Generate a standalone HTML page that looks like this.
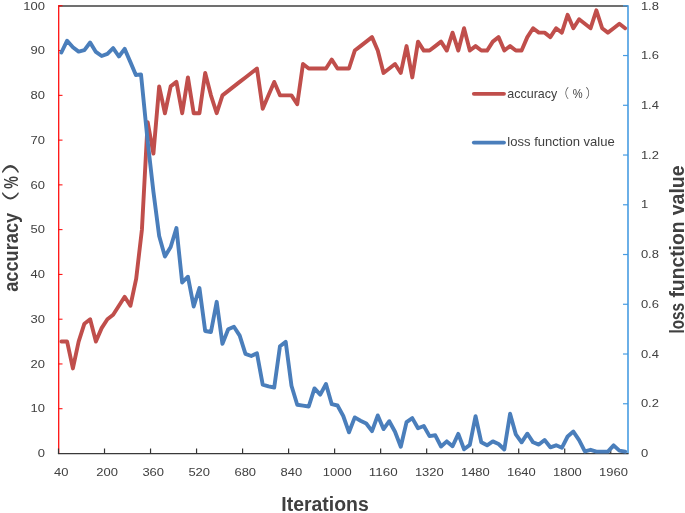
<!DOCTYPE html>
<html><head><meta charset="utf-8"><title>chart</title>
<style>html,body{margin:0;padding:0;background:#fff}svg{display:block}text{font-family:"Liberation Sans","Noto Sans CJK SC",sans-serif;fill:#404040}</style></head>
<body>
<svg width="685" height="513" viewBox="0 0 685 513">
<rect width="685" height="513" fill="#fff"/>
<line x1="58.5" y1="6.0" x2="628.0" y2="6.0" stroke="#404040" stroke-width="1.5"/>
<line x1="58.7" y1="5.3" x2="58.7" y2="453.5" stroke="#ff1010" stroke-width="1.3"/>
<line x1="58.5" y1="453.50" x2="62.5" y2="453.50" stroke="#ff0000" stroke-width="1"/>
<text x="44.9" y="457.20" font-size="11.8" text-anchor="end" textLength="7.22" lengthAdjust="spacingAndGlyphs">0</text>
<line x1="58.5" y1="408.73" x2="62.5" y2="408.73" stroke="#ff0000" stroke-width="1"/>
<text x="44.9" y="412.43" font-size="11.8" text-anchor="end" textLength="14.43" lengthAdjust="spacingAndGlyphs">10</text>
<line x1="58.5" y1="363.96" x2="62.5" y2="363.96" stroke="#ff0000" stroke-width="1"/>
<text x="44.9" y="367.66" font-size="11.8" text-anchor="end" textLength="14.43" lengthAdjust="spacingAndGlyphs">20</text>
<line x1="58.5" y1="319.19" x2="62.5" y2="319.19" stroke="#ff0000" stroke-width="1"/>
<text x="44.9" y="322.89" font-size="11.8" text-anchor="end" textLength="14.43" lengthAdjust="spacingAndGlyphs">30</text>
<line x1="58.5" y1="274.42" x2="62.5" y2="274.42" stroke="#ff0000" stroke-width="1"/>
<text x="44.9" y="278.12" font-size="11.8" text-anchor="end" textLength="14.43" lengthAdjust="spacingAndGlyphs">40</text>
<line x1="58.5" y1="229.65" x2="62.5" y2="229.65" stroke="#ff0000" stroke-width="1"/>
<text x="44.9" y="233.35" font-size="11.8" text-anchor="end" textLength="14.43" lengthAdjust="spacingAndGlyphs">50</text>
<line x1="58.5" y1="184.88" x2="62.5" y2="184.88" stroke="#ff0000" stroke-width="1"/>
<text x="44.9" y="188.58" font-size="11.8" text-anchor="end" textLength="14.43" lengthAdjust="spacingAndGlyphs">60</text>
<line x1="58.5" y1="140.11" x2="62.5" y2="140.11" stroke="#ff0000" stroke-width="1"/>
<text x="44.9" y="143.81" font-size="11.8" text-anchor="end" textLength="14.43" lengthAdjust="spacingAndGlyphs">70</text>
<line x1="58.5" y1="95.34" x2="62.5" y2="95.34" stroke="#ff0000" stroke-width="1"/>
<text x="44.9" y="99.04" font-size="11.8" text-anchor="end" textLength="14.43" lengthAdjust="spacingAndGlyphs">80</text>
<line x1="58.5" y1="50.57" x2="62.5" y2="50.57" stroke="#ff0000" stroke-width="1"/>
<text x="44.9" y="54.27" font-size="11.8" text-anchor="end" textLength="14.43" lengthAdjust="spacingAndGlyphs">90</text>
<line x1="58.5" y1="5.80" x2="62.5" y2="5.80" stroke="#ff0000" stroke-width="1"/>
<text x="44.9" y="9.50" font-size="11.8" text-anchor="end" textLength="21.65" lengthAdjust="spacingAndGlyphs">100</text>
<line x1="628.0" y1="5.3" x2="628.0" y2="453.5" stroke="#479ce2" stroke-width="1.6"/>
<line x1="623.0" y1="453.50" x2="628.0" y2="453.50" stroke="#479ce2" stroke-width="1.2"/>
<text x="640.9" y="457.20" font-size="11.8" textLength="7.22" lengthAdjust="spacingAndGlyphs">0</text>
<line x1="623.0" y1="403.76" x2="628.0" y2="403.76" stroke="#479ce2" stroke-width="1.2"/>
<text x="640.9" y="407.46" font-size="11.8" textLength="18.04" lengthAdjust="spacingAndGlyphs">0.2</text>
<line x1="623.0" y1="354.01" x2="628.0" y2="354.01" stroke="#479ce2" stroke-width="1.2"/>
<text x="640.9" y="357.71" font-size="11.8" textLength="18.04" lengthAdjust="spacingAndGlyphs">0.4</text>
<line x1="623.0" y1="304.27" x2="628.0" y2="304.27" stroke="#479ce2" stroke-width="1.2"/>
<text x="640.9" y="307.97" font-size="11.8" textLength="18.04" lengthAdjust="spacingAndGlyphs">0.6</text>
<line x1="623.0" y1="254.52" x2="628.0" y2="254.52" stroke="#479ce2" stroke-width="1.2"/>
<text x="640.9" y="258.22" font-size="11.8" textLength="18.04" lengthAdjust="spacingAndGlyphs">0.8</text>
<line x1="623.0" y1="204.78" x2="628.0" y2="204.78" stroke="#479ce2" stroke-width="1.2"/>
<text x="640.9" y="208.48" font-size="11.8" textLength="7.22" lengthAdjust="spacingAndGlyphs">1</text>
<line x1="623.0" y1="155.03" x2="628.0" y2="155.03" stroke="#479ce2" stroke-width="1.2"/>
<text x="640.9" y="158.73" font-size="11.8" textLength="18.04" lengthAdjust="spacingAndGlyphs">1.2</text>
<line x1="623.0" y1="105.29" x2="628.0" y2="105.29" stroke="#479ce2" stroke-width="1.2"/>
<text x="640.9" y="108.99" font-size="11.8" textLength="18.04" lengthAdjust="spacingAndGlyphs">1.4</text>
<line x1="623.0" y1="55.54" x2="628.0" y2="55.54" stroke="#479ce2" stroke-width="1.2"/>
<text x="640.9" y="59.24" font-size="11.8" textLength="18.04" lengthAdjust="spacingAndGlyphs">1.6</text>
<line x1="623.0" y1="5.80" x2="628.0" y2="5.80" stroke="#479ce2" stroke-width="1.2"/>
<text x="640.9" y="9.50" font-size="11.8" textLength="18.04" lengthAdjust="spacingAndGlyphs">1.8</text>
<polyline points="61.38,341.57 67.13,341.57 72.88,368.44 78.63,341.57 84.39,323.67 90.14,319.19 95.89,341.57 101.64,328.14 107.40,319.19 113.15,314.71 118.90,305.76 124.65,296.81 130.41,305.76 136.16,278.90 141.91,229.65 147.66,122.20 153.42,153.54 159.17,86.39 164.92,113.25 170.67,86.39 176.43,81.91 182.18,113.25 187.93,77.43 193.68,113.25 199.44,113.25 205.19,72.95 210.94,95.34 216.69,113.25 222.45,95.34 228.20,90.86 233.95,86.39 239.70,81.91 245.46,77.43 251.21,72.95 256.96,68.48 262.71,108.77 268.47,95.34 274.22,81.91 279.97,95.34 285.72,95.34 291.48,95.34 297.23,104.29 302.98,64.00 308.73,68.48 314.49,68.48 320.24,68.48 325.99,68.48 331.74,59.52 337.50,68.48 343.25,68.48 349.00,68.48 354.76,50.57 360.51,46.09 366.26,41.62 372.01,37.14 377.77,50.57 383.52,72.95 389.27,68.48 395.02,64.00 400.78,72.95 406.53,46.09 412.28,77.43 418.03,41.62 423.79,50.57 429.54,50.57 435.29,46.09 441.04,41.62 446.80,50.57 452.55,32.66 458.30,50.57 464.05,28.19 469.81,50.57 475.56,46.09 481.31,50.57 487.06,50.57 492.82,41.62 498.57,37.14 504.32,50.57 510.07,46.09 515.83,50.57 521.58,50.57 527.33,37.14 533.08,28.19 538.84,32.66 544.59,32.66 550.34,37.14 556.09,28.19 561.85,32.66 567.60,14.75 573.35,28.19 579.10,19.23 584.86,23.71 590.61,28.19 596.36,10.28 602.11,28.19 607.87,32.66 613.62,28.19 619.37,23.71 625.12,28.19" fill="none" stroke="#c04e4b" stroke-width="3.9" stroke-linejoin="round" stroke-linecap="round"/>
<line x1="57.9" y1="453.7" x2="628.6" y2="453.7" stroke="#3a3a3a" stroke-width="1.3"/>
<line x1="58.50" y1="448.5" x2="58.50" y2="453.5" stroke="#333" stroke-width="1.2"/>
<text x="61.18" y="476.2" font-size="11.8" text-anchor="middle" textLength="14.43" lengthAdjust="spacingAndGlyphs">40</text>
<line x1="104.52" y1="448.5" x2="104.52" y2="453.5" stroke="#333" stroke-width="1.2"/>
<text x="107.20" y="476.2" font-size="11.8" text-anchor="middle" textLength="21.65" lengthAdjust="spacingAndGlyphs">200</text>
<line x1="150.54" y1="448.5" x2="150.54" y2="453.5" stroke="#333" stroke-width="1.2"/>
<text x="153.22" y="476.2" font-size="11.8" text-anchor="middle" textLength="21.65" lengthAdjust="spacingAndGlyphs">360</text>
<line x1="196.56" y1="448.5" x2="196.56" y2="453.5" stroke="#333" stroke-width="1.2"/>
<text x="199.24" y="476.2" font-size="11.8" text-anchor="middle" textLength="21.65" lengthAdjust="spacingAndGlyphs">520</text>
<line x1="242.58" y1="448.5" x2="242.58" y2="453.5" stroke="#333" stroke-width="1.2"/>
<text x="245.26" y="476.2" font-size="11.8" text-anchor="middle" textLength="21.65" lengthAdjust="spacingAndGlyphs">680</text>
<line x1="288.60" y1="448.5" x2="288.60" y2="453.5" stroke="#333" stroke-width="1.2"/>
<text x="291.28" y="476.2" font-size="11.8" text-anchor="middle" textLength="21.65" lengthAdjust="spacingAndGlyphs">840</text>
<line x1="334.62" y1="448.5" x2="334.62" y2="453.5" stroke="#333" stroke-width="1.2"/>
<text x="337.30" y="476.2" font-size="11.8" text-anchor="middle" textLength="28.87" lengthAdjust="spacingAndGlyphs">1000</text>
<line x1="380.64" y1="448.5" x2="380.64" y2="453.5" stroke="#333" stroke-width="1.2"/>
<text x="383.32" y="476.2" font-size="11.8" text-anchor="middle" textLength="28.87" lengthAdjust="spacingAndGlyphs">1160</text>
<line x1="426.66" y1="448.5" x2="426.66" y2="453.5" stroke="#333" stroke-width="1.2"/>
<text x="429.34" y="476.2" font-size="11.8" text-anchor="middle" textLength="28.87" lengthAdjust="spacingAndGlyphs">1320</text>
<line x1="472.68" y1="448.5" x2="472.68" y2="453.5" stroke="#333" stroke-width="1.2"/>
<text x="475.36" y="476.2" font-size="11.8" text-anchor="middle" textLength="28.87" lengthAdjust="spacingAndGlyphs">1480</text>
<line x1="518.70" y1="448.5" x2="518.70" y2="453.5" stroke="#333" stroke-width="1.2"/>
<text x="521.38" y="476.2" font-size="11.8" text-anchor="middle" textLength="28.87" lengthAdjust="spacingAndGlyphs">1640</text>
<line x1="564.72" y1="448.5" x2="564.72" y2="453.5" stroke="#333" stroke-width="1.2"/>
<text x="567.40" y="476.2" font-size="11.8" text-anchor="middle" textLength="28.87" lengthAdjust="spacingAndGlyphs">1800</text>
<line x1="610.74" y1="448.5" x2="610.74" y2="453.5" stroke="#333" stroke-width="1.2"/>
<text x="613.42" y="476.2" font-size="11.8" text-anchor="middle" textLength="28.87" lengthAdjust="spacingAndGlyphs">1960</text>
<polyline points="61.38,52.50 67.13,40.70 72.88,47.20 78.63,51.60 84.39,50.20 90.14,42.50 95.89,51.90 101.64,56.00 107.40,53.90 113.15,48.10 118.90,56.50 124.65,48.90 130.41,62.10 135.86,75.00 141.01,74.40 147.66,141.20 153.42,191.70 159.17,236.00 164.92,256.50 170.67,247.00 176.43,228.00 182.18,282.50 187.93,276.70 193.68,306.50 199.44,288.10 205.19,331.00 210.94,332.00 216.69,301.80 222.45,343.90 228.20,329.30 233.95,326.70 239.70,335.60 245.46,353.90 251.21,356.00 256.96,353.30 262.71,384.60 268.47,386.30 274.22,387.50 279.97,346.30 285.72,341.90 291.48,385.80 297.23,404.70 302.98,405.60 308.73,406.50 314.49,388.40 320.24,394.60 325.99,384.00 331.74,404.20 337.50,405.50 343.25,416.00 349.00,432.30 354.76,417.40 360.51,420.70 366.26,423.50 372.01,431.20 377.77,415.40 383.52,429.10 389.27,421.20 395.02,431.80 400.78,446.70 406.53,422.10 412.28,418.10 418.03,428.20 423.79,426.00 429.54,436.10 435.29,435.30 441.04,446.50 446.80,441.40 452.55,446.30 458.30,433.90 464.05,449.30 469.81,444.90 475.56,416.20 481.31,442.30 487.06,445.30 492.82,441.40 498.57,444.00 504.32,449.50 510.07,413.80 515.83,434.40 521.58,442.30 527.33,433.70 533.08,442.30 538.84,444.60 544.59,440.00 550.34,447.30 556.09,445.30 561.85,447.80 567.60,436.50 573.35,431.60 579.10,440.20 584.86,451.40 590.61,449.80 596.36,451.60 602.11,451.60 607.87,451.60 613.62,445.40 619.37,450.60 625.12,451.70" fill="none" stroke="#4a7ebb" stroke-width="3.9" stroke-linejoin="round" stroke-linecap="round"/>
<line x1="473.8" y1="93.8" x2="504" y2="93.8" stroke="#c04e4b" stroke-width="3.8" stroke-linecap="round"/>
<line x1="473.8" y1="142.6" x2="504" y2="142.6" stroke="#4a7ebb" stroke-width="3.8" stroke-linecap="round"/>
<text x="507.3" y="97.6" font-size="12.6" textLength="50" lengthAdjust="spacingAndGlyphs">accuracy</text>
<text x="556.5" y="97.6" font-size="12.6" style="font-family:'Noto Sans CJK SC',sans-serif;font-weight:300">（</text>
<text x="572.8" y="97.6" font-size="13.4" textLength="9.9" lengthAdjust="spacingAndGlyphs">%</text>
<text x="585.4" y="97.6" font-size="12.6" style="font-family:'Noto Sans CJK SC',sans-serif;font-weight:300">）</text>
<text x="507.3" y="146.4" font-size="12.6" textLength="107.5" lengthAdjust="spacingAndGlyphs">loss function value</text>
<text x="281.3" y="510.7" font-size="20" font-weight="bold" fill="#222222" textLength="87.4" lengthAdjust="spacingAndGlyphs">Iterations</text>
<g transform="translate(18.1,291.8) rotate(-90)" font-weight="bold" font-size="20" fill="#222222">
<text x="0" y="0" fill="#222222" textLength="79" lengthAdjust="spacingAndGlyphs">accuracy</text>
<text x="72.7" y="-1.5" font-size="17.6" fill="#222222" textLength="28.2" lengthAdjust="spacingAndGlyphs" style="font-family:'Noto Sans CJK SC',sans-serif;font-weight:400">（</text>
<text x="103.1" y="0" font-size="21" fill="#222222" textLength="12.6" lengthAdjust="spacingAndGlyphs">%</text>
<text x="117" y="-1.5" font-size="17.6" fill="#222222" textLength="31.7" lengthAdjust="spacingAndGlyphs" style="font-family:'Noto Sans CJK SC',sans-serif;font-weight:400">）</text>
</g>
<g transform="translate(683.6,333.6) rotate(-90)" font-weight="bold" font-size="20">
<text x="0" y="0" fill="#222222" textLength="30.7" lengthAdjust="spacingAndGlyphs">loss</text>
<text x="36" y="0" fill="#222222" textLength="76.2" lengthAdjust="spacingAndGlyphs">function</text>
<text x="118.3" y="0" fill="#222222" textLength="50" lengthAdjust="spacingAndGlyphs">value</text>
</g>
</svg>
</body></html>
